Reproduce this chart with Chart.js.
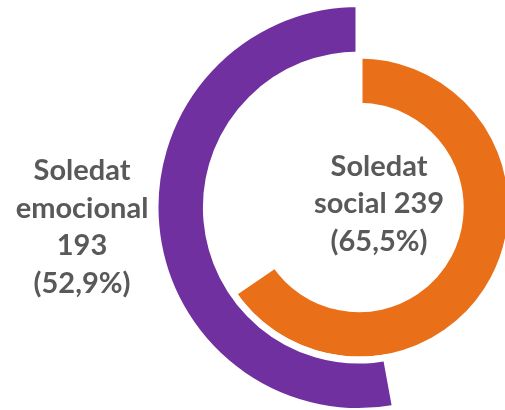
<!DOCTYPE html>
<html>
<head>
<meta charset="utf-8">
<script src="https://cdn.jsdelivr.net/npm/chart.js@4"></script>
<style>
    body { margin: 0; background: #fff; overflow: hidden; }
    #wrap { position: relative; width: 505px; height: 410px; }
</style>
</head>
<body>
<div id="wrap"><canvas id="ringChart" width="505" height="410"></canvas></div>
<script>
// data
const categories = ['Soledat emocional', 'Soledat social'];
const counts = [193, 239];
const total = 365;
const colors = ['#7030A0', '#E97019'];

function pct(v) {
    return '(' + (v / total * 100).toFixed(1).replace('.', ',') + '%)';
}

// label lines, built from the data
const leftLines = categories[0].split(' ').concat([String(counts[0]), pct(counts[0])]);
const rightWords = categories[1].split(' ');
const rightLines = [rightWords[0], rightWords[1] + ' ' + counts[1], pct(counts[1])];

const labelPlugin = {
    id: 'ringLabels',
    afterDraw(chart) {
        const c = chart.ctx;
        c.save();
        c.fillStyle = '#595959';
        c.font = 'bold 29px Lato, "Open Sans", sans-serif';
        c.textAlign = 'center';
        c.textBaseline = 'alphabetic';
        const leftY = [180, 218, 255, 293];
        leftLines.forEach((t, i) => c.fillText(t, 82, leftY[i]));
        const rightY = [176, 213, 251];
        rightLines.forEach((t, i) => c.fillText(t, 379, rightY[i]));
        c.restore();
    }
};

const ctx = document.getElementById('ringChart').getContext('2d');
const ringChart = new Chart(ctx, {
    type: 'doughnut',
    data: {
        labels: ['rest', 'value'],
        datasets: [
            {
                // outer ring: purple runs counter-clockwise from the top
                data: [total - counts[0], counts[0]],
                backgroundColor: ['rgba(0,0,0,0)', colors[0]],
                borderColor: '#ffffff',
                borderWidth: [0, 7],
                clip: false
            },
            {
                // inner ring: orange runs clockwise from the top
                data: [counts[1], total - counts[1]],
                backgroundColor: [colors[1], 'rgba(0,0,0,0)'],
                borderColor: '#ffffff',
                borderWidth: [7, 0],
                clip: false
            }
        ]
    },
    options: {
        responsive: false,
        animation: false,
        events: [],
        radius: 204,
        cutout: '49.6%',
        layout: { padding: { left: 213, right: 0, top: 5, bottom: 0 } },
        plugins: {
            legend: { display: false },
            tooltip: { enabled: false }
        }
    },
    plugins: [labelPlugin]
});
</script>
</body>
</html>
